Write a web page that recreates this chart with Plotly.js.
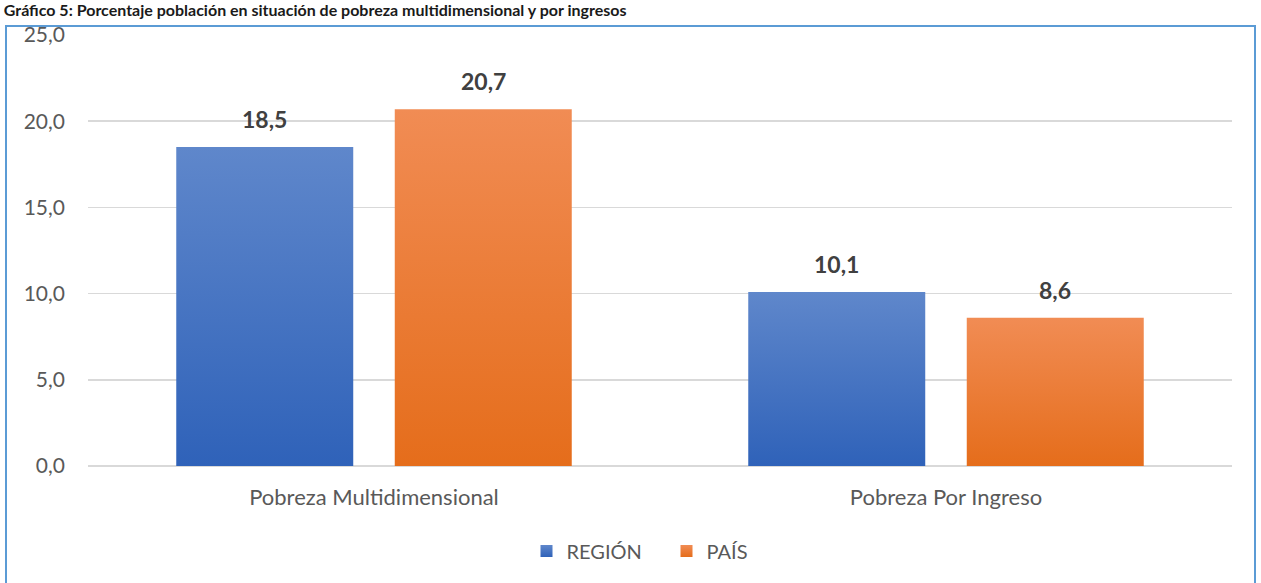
<!DOCTYPE html>
<html>
<head>
<meta charset="utf-8">
<script src="https://cdn.plot.ly/plotly-3.0.1.min.js"></script>
<style>
html,body{margin:0;padding:0;background:#fff;overflow:hidden;}
#wrap{position:relative;width:1261px;height:583px;}
#chart{position:absolute;left:0;top:0;width:1261px;height:583px;}
#frame{position:absolute;left:5px;top:25px;width:1251px;height:590px;border:2px solid #5b9bd5;pointer-events:none;box-sizing:border-box;}
</style>
</head>
<body>
<div id="wrap">
<div id="frame"></div>
<div id="chart"></div>
</div>
<script>
const titleText = "Gráfico 5: Porcentaje población en situación de pobreza multidimensional y por ingresos";
const categories = ["Pobreza Multidimensional", "Pobreza Por Ingreso"];
const seriesNames = ["REGIÓN", "PAÍS"];
const regionValues = [18.5, 10.1];
const paisValues = [20.7, 8.6];
const yTicks = [0, 5, 10, 15, 20, 25];

const colors = ["#4472c4", "#ed7d31"];
const gradients = [["#5f87cb", "#2f62b9"], ["#f18c54", "#e56d1b"]];
const FONT = "Lato, 'Open Sans', sans-serif";

const allValues = [regionValues, paisValues];
const traces = allValues.map((vals, i) => ({
  type: "bar",
  name: seriesNames[i],
  x: categories,
  y: vals,
  marker: {color: colors[i], line: {width: 0}},
  hoverinfo: "none"
}));

const bargap = 0.236, bargroupgap = 0.19;
const slot = (1 - bargap) / 2;
const annotations = [];
allValues.forEach((vals, i) => {
  vals.forEach((v, j) => {
    annotations.push({
      xref: "x", yref: "y",
      x: j + (i === 0 ? -slot / 2 : slot / 2),
      y: v,
      text: "<b>" + v.toFixed(1).replace(".", ",") + "</b>",
      showarrow: false,
      yanchor: "bottom",
      yshift: 12,
      font: {family: FONT, size: 23, color: "#404040"}
    });
  });
});

const layout = {
  width: 1261, height: 583,
  paper_bgcolor: "rgba(0,0,0,0)",
  plot_bgcolor: "rgba(0,0,0,0)",
  separators: ",.",
  margin: {l: 88, r: 29, t: 35, b: 117},
  title: {
    text: "<b>" + titleText + "</b>",
    x: 0.003, xanchor: "left",
    y: 1 - 5 / 583, yanchor: "top", yref: "container",
    pad: {t: 0, b: 0, l: 0, r: 0},
    font: {family: FONT, size: 16, color: "#1a1a1a"}
  },
  barmode: "group",
  bargap: bargap,
  bargroupgap: bargroupgap,
  showlegend: true,
  legend: {
    orientation: "h",
    x: 0.5 + 36 / 1261, xanchor: "center", xref: "container",
    y: 0.055, yanchor: "middle", yref: "container",
    font: {family: FONT, size: 20, color: "#595959"},
    entrywidth: 95, entrywidthmode: "pixels",
    itemsizing: "constant"
  },
  xaxis: {
    type: "category",
    showgrid: false,
    showline: false,
    zeroline: false,
    ticks: "",
    ticklabelstandoff: 16,
    tickfont: {family: FONT, size: 22, color: "#595959"},
    fixedrange: true
  },
  yaxis: {
    range: [0, 25],
    tickvals: yTicks,
    tickformat: ".1f",
    showgrid: true,
    gridcolor: "#d9d9d9",
    gridwidth: 1.5,
    zeroline: true,
    zerolinecolor: "#d9d9d9",
    zerolinewidth: 1.5,
    showline: false,
    ticks: "",
    ticklabelstandoff: 22,
    tickfont: {family: FONT, size: 21, color: "#595959"},
    fixedrange: true
  },
  annotations: annotations
};

function applyGradients(gd) {
  const svg = gd.querySelector("svg.main-svg");
  if (!svg) return;
  let defs = svg.querySelector("defs");
  if (!defs) { defs = document.createElementNS("http://www.w3.org/2000/svg", "defs"); svg.insertBefore(defs, svg.firstChild); }
  gradients.forEach((g, i) => {
    const id = "barGrad" + i;
    if (!svg.querySelector("#" + id)) {
      const lg = document.createElementNS("http://www.w3.org/2000/svg", "linearGradient");
      lg.setAttribute("id", id);
      lg.setAttribute("x1", "0"); lg.setAttribute("y1", "0");
      lg.setAttribute("x2", "0"); lg.setAttribute("y2", "1");
      [[0, g[0]], [1, g[1]]].forEach(([o, c]) => {
        const st = document.createElementNS("http://www.w3.org/2000/svg", "stop");
        st.setAttribute("offset", o); st.setAttribute("stop-color", c);
        lg.appendChild(st);
      });
      defs.appendChild(lg);
    }
  });
  gd.querySelectorAll(".barlayer .trace").forEach((t, i) => {
    t.querySelectorAll("path").forEach(p => { p.style.fill = "url(#barGrad" + i + ")"; });
  });
  gd.querySelectorAll(".legend .traces").forEach((t, i) => {
    t.querySelectorAll(".legendpoints path").forEach(p => { p.style.fill = "url(#barGrad" + i + ")"; });
  });
}

Plotly.newPlot("chart", traces, layout, {displayModeBar: false, staticPlot: true}).then(gd => applyGradients(gd));
</script>
</body>
</html>
